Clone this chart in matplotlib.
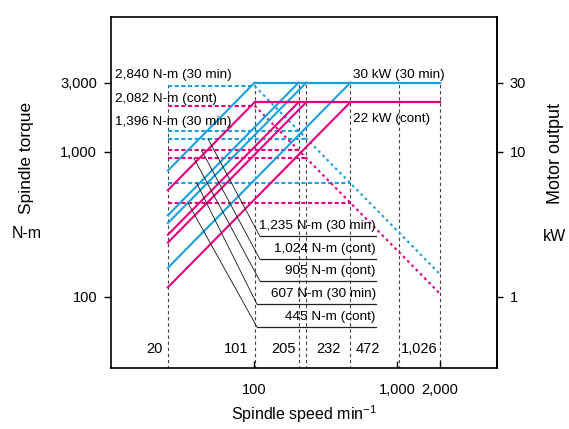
import numpy as np
import matplotlib.pyplot as plt
from matplotlib.ticker import FixedLocator, NullLocator

plt.rcParams['font.family'] = ['Liberation Sans', 'DejaVu Sans']
plt.rcParams['mathtext.default'] = 'regular'

BLUE = '#1b9fe0'
MAGENTA = '#e4007f'
GRID = '#444444'

# speeds (min-1); the "20" line sits at ~25 on the drawn scale
speed_min = 25
speed_max = 2000
speed_marks = [25, 101, 205, 232, 472, 1026, 2000]
speed_labels = ['20', '101', '205', '232', '472', '1,026']

# motor output (kW)
power_30min = 30
power_cont = 22

# torque per gear range (N-m) and base speed where rated power is reached
torque_30min = [2840, 1396, 1235, 607]
torque_cont = [2082, 1024, 905, 445]
base_speed = [101, 205, 232, 472]

KW = 100  # right axis (kW) = left axis (N-m) / 100

fig = plt.figure(figsize=(5.69, 4.29), dpi=100)
ax = fig.add_axes([111/569, 1-368/429, (497-111)/569, (368-17)/429])
ax.set_xscale('log')
ax.set_yscale('log')
ax.set_xlim(10, 5000)
ax.set_ylim(32.4, 8500)

# vertical reference lines
for s in speed_marks:
    top = torque_30min[0] if s == speed_min else power_30min * KW
    ax.plot([s, s], [10, top], color=GRID, lw=0.8, ls=(0, (3, 2.5)), zorder=1)

dash = (0, (2, 1.2))
dot = (0, (1.3, 1.6))

for i in range(len(base_speed)):
    b = base_speed[i]
    # torque, constant region
    ax.plot([speed_min, b], [torque_30min[i], torque_30min[i]], color=BLUE, lw=1.5, ls=dash, zorder=2)
    ax.plot([speed_min, b], [torque_cont[i], torque_cont[i]], color=MAGENTA, lw=1.5, ls=dash, zorder=2)
    # power rising up to base speed
    ax.plot([speed_min, b], [power_30min * KW * speed_min / b, power_30min * KW], color=BLUE, lw=1.5, zorder=3)
    ax.plot([speed_min, b], [power_cont * KW * speed_min / b, power_cont * KW], color=MAGENTA, lw=1.5, zorder=3)

# constant power region
b0 = base_speed[0]
ax.plot([b0, speed_max], [power_30min * KW, power_30min * KW], color=BLUE, lw=1.6, zorder=3)
ax.plot([b0, speed_max], [power_cont * KW, power_cont * KW], color=MAGENTA, lw=1.6, zorder=3)
ax.plot([b0, speed_max], [torque_30min[0], torque_30min[0] * b0 / speed_max], color=BLUE, lw=1.5, ls=dot, zorder=2)
ax.plot([b0, speed_max], [torque_cont[0], torque_cont[0] * b0 / speed_max], color=MAGENTA, lw=1.5, ls=dot, zorder=2)

fs = 9.7
ax.text(10.7, 3360, '2,840 N-m (30 min)', fontsize=fs, va='center', ha='left')
ax.text(10.7, 2300, '2,082 N-m (cont)', fontsize=fs, va='center', ha='left')
ax.text(10.7, 1600, '1,396 N-m (30 min)', fontsize=fs, va='center', ha='left')
ax.text(495, 3360, '30 kW (30 min)', fontsize=fs, va='center', ha='left')
ax.text(495, 1690, '22 kW (cont)', fontsize=fs, va='center', ha='left')

# labelled leaders
leader_labels = ['1,235 N-m (30 min)', '1,024 N-m (cont)', '905 N-m (cont)', '607 N-m (30 min)', '445 N-m (cont)']
leader_torque = [1235, 1024, 905, 607, 445]
leader_from = [47.6, 43, 38, 39.8, 34.5]
leader_row = [263, 183, 129.5, 89.5, 62.4]
leader_text_y = [310, 213, 151, 105, 73]
leader_turn = [109.6, 109.6, 109.6, 104.6, 104.6]
for lab, t, x0, row, ty, xt in zip(leader_labels, leader_torque, leader_from, leader_row, leader_text_y, leader_turn):
    ax.plot([x0, xt], [t, row], color='#111111', lw=0.6, zorder=4)
    ax.plot([xt, 714], [row, row], color='#222222', lw=0.9, zorder=4)
    ax.text(712, ty, lab, fontsize=fs, va='center', ha='right', zorder=5)

# speed labels along the bottom
label_x = [23.1, 91.8, 195.4, 273.6, 512, 1071]
label_ha = ['right', 'right', 'right', 'left', 'left', 'left']
for x, lab, ha in zip(label_x, speed_labels, label_ha):
    ax.text(x, 44, lab, fontsize=10.5, ha=ha, va='center')

# axes styling
for sp in ax.spines.values():
    sp.set_linewidth(1.2)
ax.xaxis.set_major_locator(FixedLocator([100, 1000, 2000]))
ax.xaxis.set_minor_locator(NullLocator())
ax.set_xticklabels(['100', '1,000', '2,000'])
ax.tick_params(axis='x', direction='in', length=5, width=1, pad=11, labelsize=10.5)
ax.yaxis.set_major_locator(FixedLocator([100, 1000, 3000]))
ax.yaxis.set_minor_locator(NullLocator())
ax.set_yticklabels(['100', '1,000', '3,000'])
ax.tick_params(axis='y', direction='out', length=5, width=1, pad=5, labelsize=10.5)

sec = ax.secondary_yaxis('right', functions=(lambda y: y / KW, lambda y: y * KW))
sec.yaxis.set_major_locator(FixedLocator([1, 10, 30]))
sec.yaxis.set_minor_locator(NullLocator())
sec.set_yticklabels(['1', '10', '30'])
sec.tick_params(axis='y', direction='out', length=4, width=1, pad=5, labelsize=10.5)
sec.spines['right'].set_linewidth(1.2)

fig.text(304/569, 1-414/429, 'Spindle speed min$^{-1}$', fontsize=11.5, ha='center', va='center')
fig.text(27/569, 1-158/429, 'Spindle torque', fontsize=12.5, rotation=90, ha='center', va='center')
fig.text(27/569, 1-233/429, 'N-m', fontsize=11.5, ha='center', va='center')
fig.text(555/569, 1-153/429, 'Motor output', fontsize=13, rotation=90, ha='center', va='center')
fig.text(555/569, 1-237/429, 'kW', fontsize=11.5, ha='center', va='center')

fig.savefig('out.png', dpi=100)
